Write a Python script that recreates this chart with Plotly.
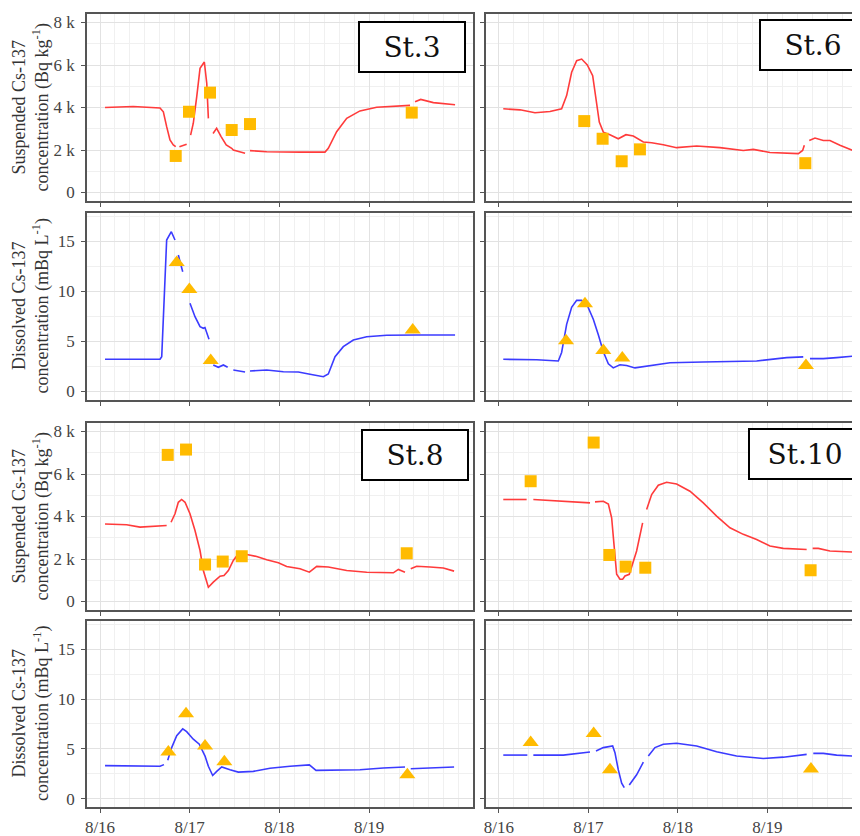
import datetime as dt
import plotly.graph_objects as go

BASE = dt.datetime(2019, 8, 16)

# ---- x ticks ----
tick_days = [0, 1, 2, 3]
tick_text = ["8/16", "8/17", "8/18", "8/19"]

# ---- St.3 ----  (t = days since 8/16 00:00; None = break in simulated line)
st3_susp_line_t = [0.056, 0.37, 0.669, 0.706, 0.743, 0.78, 0.817, 0.844, 0.865, 0.885, 0.966, 0.99,
                   1.01, 1.04, 1.078, 1.115, 1.163, 1.19, 1.208, 1.235, 1.26, 1.30, 1.35, 1.407, 1.468,
                   1.486, 1.617, 1.645, 1.672, 1.858, 2.23, 2.508, 2.545, 2.638, 2.75, 2.898, 3.084,
                   3.27, 3.456, 3.485, 3.512, 3.575, 3.716, 3.958]
st3_susp_line_v = [4000, 4050, 3980, 3800, 3100, 2470, 2240, 2160, None, 2150, 2270, None,
                   2700, 3260, 4500, 5840, 6140, 5140, 3490, None, 2780, 3020, 2630, 2240, 2080,
                   2000, 1850, None, 1970, 1920, 1900, 1900, 2080, 2860, 3490, 3840, 4010,
                   4070, 4100, None, 4270, 4380, 4230, 4130]
st3_susp_obs_t = [0.844, 0.992, 1.226, 1.468, 1.672, 3.475]
st3_susp_obs_v = [1720, 3800, 4700, 2940, 3220, 3760]

st3_diss_line_t = [0.056, 0.669, 0.688, 0.713, 0.743, 0.795, 0.836, 0.855, 0.873, 0.922, 0.96,
                   1.003, 1.059, 1.115, 1.152, 1.17, 1.215, 1.24, 1.263, 1.319, 1.375, 1.423, 1.455,
                   1.486, 1.617, 1.645, 1.672, 1.858, 2.044, 2.211, 2.341, 2.49, 2.545, 2.62, 2.712,
                   2.824, 2.973, 3.196, 3.53, 3.958]
st3_diss_line_v = [3.22, 3.22, 3.48, 9.15, 15.15, 15.98, 15.15, None, 13.65, 11.98, None,
                   8.82, 7.48, 6.48, 6.32, 6.4, 5.22, None, 2.65, 2.42, 2.65, 2.42, None,
                   2.15, 1.95, None, 2.05, 2.15, 1.98, 1.95, 1.72, 1.48, 1.75, 3.48, 4.48,
                   5.15, 5.48, 5.62, 5.65, 5.65]
st3_diss_obs_t = [0.855, 0.996, 1.234, 3.486]
st3_diss_obs_v = [12.9, 10.2, 3.1, 6.15]

# ---- St.6 ----
st6_susp_line_t = [0.048, 0.235, 0.402, 0.57, 0.70, 0.756, 0.812, 0.868, 0.924, 0.987, 1.047, 1.084,
                   1.121, 1.166, 1.24, 1.333, 1.419, 1.501, 1.613, 1.706, 1.836, 1.985, 2.209, 2.469,
                   2.73, 2.842, 3.028, 3.345, 3.393, 3.412, 3.44, 3.467, 3.531, 3.624, 3.698, 3.81, 3.952]
st6_susp_line_v = [3940, 3890, 3750, 3810, 3940, 4560, 5660, 6200, 6280, 6000, 5500, 4410,
                   3310, 2840, 2720, 2530, 2720, 2660, 2380, 2340, 2250, 2110, 2190, 2110,
                   1980, 2030, 1880, 1830, 1980, 2220, None, 2450, 2560, 2450, 2450, 2220, 1980]
st6_susp_obs_t = [0.953, 1.158, 1.371, 1.575, 3.423]
st6_susp_obs_v = [3360, 2530, 1470, 2030, 1380]

st6_diss_line_t = [0.048, 0.421, 0.663, 0.70, 0.756, 0.812, 0.868, 0.924, 0.987, 1.054, 1.11, 1.166,
                   1.222, 1.277, 1.352, 1.426, 1.52, 1.687, 1.911, 2.283, 2.879, 3.214, 3.4, 3.44,
                   3.475, 3.624, 3.773, 3.952]
st6_diss_line_v = [3.22, 3.18, 3.05, 3.9, 6.71, 8.42, 9.11, 9.11, 8.6, 7.23, 5.68, 3.97,
                   2.77, 2.36, 2.67, 2.6, 2.36, 2.6, 2.88, 2.95, 3.05, 3.39, 3.46, None,
                   3.29, 3.29, 3.39, 3.53]
st6_diss_obs_t = [0.749, 0.961, 1.166, 1.378, 3.43]
st6_diss_obs_v = [5.07, 8.77, 4.11, 3.36, 2.6]

# ---- St.8 ----
st8_susp_line_t = [0.056, 0.297, 0.446, 0.632, 0.743, 0.77, 0.792, 0.836, 0.873, 0.91, 0.948, 1.003,
                   1.059, 1.115, 1.152, 1.208, 1.263, 1.338, 1.382, 1.431, 1.486, 1.542, 1.636, 1.747,
                   1.858, 1.988, 2.081, 2.23, 2.334, 2.416, 2.545, 2.75, 2.973, 3.27, 3.326, 3.4, 3.43,
                   3.464, 3.53, 3.679, 3.827, 3.947]
st8_susp_line_v = [3650, 3610, 3500, 3530, 3580, None, 3730, 4130, 4670, 4800, 4670, 4130,
                   3340, 2400, 1460, 670, 910, 1190, 1220, 1460, 1930, 2240, 2210, 2120,
                   1960, 1820, 1650, 1540, 1380, 1650, 1620, 1460, 1380, 1350, 1510, 1380, None,
                   1540, 1660, 1620, 1580, 1430]
st8_susp_obs_t = [0.755, 0.959, 1.171, 1.368, 1.58, 3.419]
st8_susp_obs_v = [6900, 7150, 1740, 1880, 2130, 2270]

st8_diss_line_t = [0.056, 0.669, 0.713, 0.735, 0.755, 0.799, 0.855, 0.922, 0.966, 1.04, 1.107, 1.171,
                   1.208, 1.256, 1.301, 1.357, 1.449, 1.542, 1.709, 1.895, 2.118, 2.334, 2.408, 2.601,
                   2.898, 3.158, 3.4, 3.43, 3.464, 3.716, 3.947]
st8_diss_line_v = [3.31, 3.24, 3.41, None, 3.86, 5.12, 6.31, 7.0, 6.72, 5.97, 5.46, 4.27,
                   3.24, 2.32, 2.73, 3.17, 2.9, 2.66, 2.73, 3.04, 3.24, 3.38, 2.83, 2.83,
                   2.9, 3.07, 3.17, None, 3.0, 3.07, 3.17]
st8_diss_obs_t = [0.762, 0.959, 1.171, 1.386, 3.426]
st8_diss_obs_v = [4.68, 8.53, 5.29, 3.69, 2.39]

# ---- St.10 ----
st10_susp_line_t = [0.048, 0.309, 0.345, 0.384, 0.607, 0.793, 1.017, 1.045, 1.073, 1.166, 1.222, 1.259,
                    1.285, 1.315, 1.352, 1.382, 1.408, 1.456, 1.538, 1.605, 1.628, 1.65, 1.706, 1.78,
                    1.873, 1.985, 2.134, 2.283, 2.432, 2.581, 2.73, 2.879, 3.028, 3.177, 3.438, 3.47,
                    3.505, 3.568, 3.698, 3.952]
st10_susp_line_v = [4800, 4800, None, 4800, 4750, 4720, 4640, None, 4690, 4720, 4590, 3940,
                    2690, 1280, 1050, 1050, 1200, 1280, 2380, 3700, None, 4330, 5030, 5470,
                    5610, 5530, 5190, 4640, 4020, 3470, 3160, 2920, 2610, 2500, 2450, None,
                    2500, 2500, 2380, 2330]
st10_susp_obs_t = [0.354, 1.058, 1.233, 1.415, 1.635, 3.482]
st10_susp_obs_v = [5660, 7480, 2190, 1640, 1590, 1470]

st10_diss_line_t = [0.048, 0.317, 0.35, 0.384, 0.719, 1.017, 1.05, 1.084, 1.166, 1.27, 1.296, 1.333,
                    1.371, 1.4, 1.43, 1.456, 1.538, 1.613, 1.64, 1.669, 1.743, 1.836, 1.985, 2.209,
                    2.432, 2.655, 2.953, 3.177, 3.438, 3.475, 3.512, 3.624, 3.773, 3.952]
st10_diss_line_v = [4.37, 4.37, None, 4.37, 4.37, 4.68, None, 4.78, 5.12, 5.29, 4.61, 2.9,
                    1.54, 1.09, None, 1.37, 2.39, 3.65, None, 4.27, 5.12, 5.46, 5.56, 5.29,
                    4.71, 4.27, 4.03, 4.16, 4.44, None, 4.54, 4.54, 4.37, 4.27]
st10_diss_obs_t = [0.354, 1.058, 1.24, 3.486]
st10_diss_obs_v = [5.63, 6.55, 2.9, 2.97]

# ---- y-axis ticks ----
susp_ticks = [0, 2000, 4000, 6000, 8000]
susp_tick_text = ["0", "2 k", "4 k", "6 k", "8 k"]
diss_ticks = [0, 5, 10, 15]
diss_tick_text = ["0", "5", "10", "15"]

stations = ["St.3", "St.6", "St.8", "St.10"]
susp_title = "Suspended Cs-137<br>concentration (Bq kg<sup>-1</sup>)"
diss_title = "Dissolved Cs-137<br>concentration (mBq L<sup>-1</sup>)"

# ---------------------------------------------------------------------------
OFF = 8                      # page body margin: figure starts at (8, 8) in the window
W, H = 860 - OFF, 836 - OFF
RED = "#FF3B3B"
BLUE = "#3B3BFF"
GOLD = "#FFBB00"
FONT = "Liberation Serif"
BOXFONT = "DejaVu Serif"


def to_dates(ts):
    return [BASE + dt.timedelta(days=t) for t in ts]


def px_x(p):
    return (p - OFF) / W


def px_y(p):
    return 1 - (p - OFF) / H


col_px = {1: (87, 473), 2: (486, 860)}
row_px = {1: (14, 201), 2: (213, 400), 3: (423, 610), 4: (621, 807)}
x_end = {1: 4.158, 2: 4.034}

panels = [
    # (row, col, kind, line_t, line_v, obs_t, obs_v)
    (1, 1, "susp", st3_susp_line_t, st3_susp_line_v, st3_susp_obs_t, st3_susp_obs_v),
    (1, 2, "susp", st6_susp_line_t, st6_susp_line_v, st6_susp_obs_t, st6_susp_obs_v),
    (2, 1, "diss", st3_diss_line_t, st3_diss_line_v, st3_diss_obs_t, st3_diss_obs_v),
    (2, 2, "diss", st6_diss_line_t, st6_diss_line_v, st6_diss_obs_t, st6_diss_obs_v),
    (3, 1, "susp", st8_susp_line_t, st8_susp_line_v, st8_susp_obs_t, st8_susp_obs_v),
    (3, 2, "susp", st10_susp_line_t, st10_susp_line_v, st10_susp_obs_t, st10_susp_obs_v),
    (4, 1, "diss", st8_diss_line_t, st8_diss_line_v, st8_diss_obs_t, st8_diss_obs_v),
    (4, 2, "diss", st10_diss_line_t, st10_diss_line_v, st10_diss_obs_t, st10_diss_obs_v),
]

fig = go.Figure()
layout = {}
for row, col, kind, lt, lv, ot, ov in panels:
    i = (row - 1) * 2 + col
    xs = "" if i == 1 else str(i)
    is_susp = kind == "susp"
    fig.add_trace(go.Scatter(
        x=to_dates(lt), y=lv, mode="lines", connectgaps=False,
        line=dict(color=RED if is_susp else BLUE, width=1.6),
        xaxis="x" + xs, yaxis="y" + xs, showlegend=False, hoverinfo="skip"))
    fig.add_trace(go.Scatter(
        x=to_dates(ot), y=ov, mode="markers",
        marker=dict(symbol="square" if is_susp else "triangle-up",
                    size=12 if is_susp else 14, color=GOLD, line=dict(width=0)),
        xaxis="x" + xs, yaxis="y" + xs, showlegend=False, hoverinfo="skip"))

    x0, x1 = col_px[col]
    y0, y1 = row_px[row]
    layout["xaxis" + xs] = dict(
        type="date", domain=[px_x(x0), min(px_x(x1), 1.0)], anchor="y" + xs,
        range=[BASE - dt.timedelta(days=0.145), BASE + dt.timedelta(days=x_end[col])],
        tickvals=to_dates(tick_days), ticktext=tick_text,
        showticklabels=(row == 4), ticks="outside", ticklen=4, tickcolor="#555555",
        tickfont=dict(family=FONT, size=17, color="#444444"),
        showline=True, mirror=True, linecolor="#555555", linewidth=1.5,
        showgrid=True, gridcolor="#e2e2e2", gridwidth=1, zeroline=False,
        minor=dict(dtick=4 * 3600 * 1000, tick0=BASE, showgrid=True,
                   gridcolor="#f0f0f0", gridwidth=1, ticks=""),
        automargin=False, fixedrange=True)
    layout["yaxis" + xs] = dict(
        domain=[px_y(y1), px_y(y0)], anchor="x" + xs,
        range=[-400, 8400] if is_susp else [-0.85, 17.85],
        tickvals=susp_ticks if is_susp else diss_ticks,
        ticktext=susp_tick_text if is_susp else diss_tick_text,
        showticklabels=(col == 1), ticks="outside", ticklen=4, tickcolor="#555555",
        ticklabelstandoff=3,
        tickfont=dict(family=FONT, size=17, color="#444444"),
        showline=True, mirror=True, linecolor="#555555", linewidth=1.5,
        showgrid=True, gridcolor="#e2e2e2", gridwidth=1, zeroline=False,
        minor=dict(dtick=1000 if is_susp else 2.5, tick0=0, showgrid=True,
                   gridcolor="#f0f0f0", gridwidth=1, ticks=""),
        automargin=False, fixedrange=True)

annotations = []
# y-axis titles
for row in range(1, 5):
    y0, y1 = row_px[row]
    annotations.append(dict(
        text=susp_title if row in (1, 3) else diss_title,
        xref="paper", yref="paper", x=px_x(31), y=px_y((y0 + y1) / 2),
        xanchor="center", yanchor="middle", textangle=-90, showarrow=False,
        font=dict(family=FONT, size=18, color="#333333")))

# station labels
st_boxes = [("St.3", 412, 47), ("St.6", 813, 45), ("St.8", 415, 455), ("St.10", 805, 454)]
for name, cx, cy in st_boxes:
    annotations.append(dict(
        text=name, xref="paper", yref="paper", x=px_x(cx), y=px_y(cy),
        xanchor="center", yanchor="middle", showarrow=False,
        font=dict(family=BOXFONT, size=28, color="#111111"),
        bgcolor="white", bordercolor="black", borderwidth=2, borderpad=2,
        width=100 if name != "St.10" else 106, height=44))

fig.update_layout(
    width=W, height=H, margin=dict(l=0, r=0, t=0, b=0),
    paper_bgcolor="white", plot_bgcolor="white",
    annotations=annotations, **layout)

fig.write_html("out.html")
